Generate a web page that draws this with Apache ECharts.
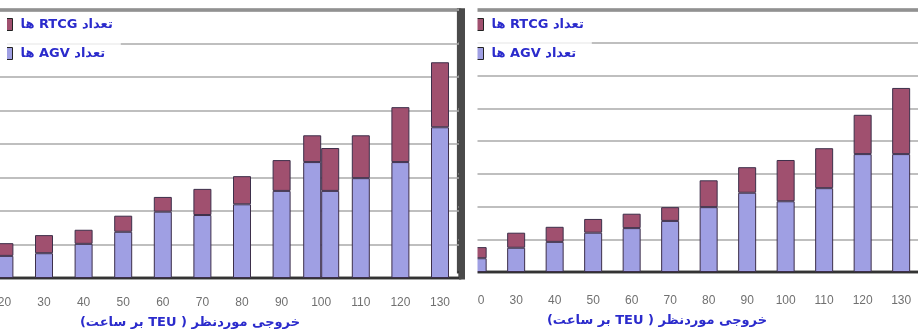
<!DOCTYPE html>
<html>
<head>
<meta charset="utf-8">
<script src="https://cdn.jsdelivr.net/npm/echarts@6/dist/echarts.min.js"></script>
<style>
  html, body { margin: 0; padding: 0; background: #ffffff; }
  #chart { width: 918px; height: 336px; }
</style>
</head>
<body>
<div id="chart"></div>
<script>
// Output rate categories (TEU per hour)
const categories = ['20', '30', '40', '50', '60', '70', '80', '90', '100', '110', '120', '130'];

// Left chart: AGV count (lower segment) and RTCG count (upper segment).
// The 100 column carries two side-by-side bars, kept in their own arrays.
const leftAgv  = [3.3, 3.7, 5.1, 6.9, 9.9, 9.4, 11.0, 13.0, null, 14.9, 17.3, 22.5];
const leftRtcg = [1.9, 2.7, 2.1, 2.4, 2.2, 3.9, 4.2, 4.6, null, 6.4, 8.2, 9.7];
const leftAgvAt100  = [17.3, 13.0];
const leftRtcgAt100 = [4.0, 6.4];

// Right chart
const rightAgv  = [2.1, 3.7, 4.6, 6.0, 6.7, 7.8, 9.9, 12.1, 10.8, 12.8, 18.0, 18.0];
const rightRtcg = [1.7, 2.3, 2.3, 2.1, 2.2, 2.1, 4.1, 3.9, 6.3, 6.1, 6.0, 10.1];

const nameRtcg = 'تعداد RTCG ها';
const nameAgv = 'تعداد AGV ها';
const axisTitle = 'خروجی موردنظر ( TEU بر ساعت)';

// wrap Persian strings in a right-to-left embedding
const rtl = s => '\u202B' + s + '\u202C';

const AGV_COLOR = '#9f9fe3';
const RTCG_COLOR = '#a0506f';
const BAR_BORDER = '#3d2f4a';
const TEXT_BLUE = '#2b2bcc';
const FRAME = '#4a4a4a';
const persianFont = 'bold 13px "DejaVu Sans"';

// data for one of the two bars in the 100 column
const splitColumn = (values, i) => categories.map(c => (c === '100' ? values[i] : null));

function barSeries(name, data, stack, xIdx, yIdx, color, extra) {
  return Object.assign({
    type: 'bar', name, data, stack,
    xAxisIndex: xIdx, yAxisIndex: yIdx,
    barWidth: 18,
    itemStyle: { color, borderColor: BAR_BORDER, borderWidth: 1 }
  }, extra || {});
}

const gridStyle = {
  show: true, borderColor: FRAME, borderWidth: 3, backgroundColor: 'transparent',
  containLabel: false, outerBoundsMode: 'none'
};

const valueAxis = (gridIndex) => ({
  type: 'value', gridIndex, min: 0, max: 40, interval: 5,
  axisLabel: { show: false }, axisLine: { show: false }, axisTick: { show: false },
  splitLine: { lineStyle: { color: '#aaaaaa', width: 1.5 } }
});

const catAxis = (gridIndex, margin, show) => ({
  type: 'category', gridIndex, data: categories, show,
  axisLine: { lineStyle: { color: '#333333', width: 2 } },
  axisTick: { show: false },
  axisLabel: { interval: 0, margin, color: '#707070', fontSize: 12, fontFamily: '"Liberation Sans", Arial, sans-serif' }
});

const legendBase = {
  orient: 'vertical', top: 14, itemWidth: 10, itemHeight: 12, itemGap: 16,
  icon: 'rect', padding: [4, 8, 4, 2],
  backgroundColor: 'rgba(255,255,255,0.8)',
  data: [nameRtcg, nameAgv],
  formatter: rtl,
  itemStyle: { borderColor: '#222222', borderWidth: 1 },
  textStyle: { color: TEXT_BLUE, fontWeight: 'bold', fontSize: 13, fontFamily: '"DejaVu Sans"', padding: [0, 0, 0, 3] }
};

const chart = echarts.init(document.getElementById('chart'), null, { renderer: 'canvas' });

chart.setOption({
  animation: false,
  backgroundColor: '#ffffff',
  grid: [
    Object.assign({ left: -15.4, top: 10, width: 475.2, height: 268 }, gridStyle),
    Object.assign({ left: 458.4, top: 10, width: 462, height: 262 }, gridStyle)
  ],
  xAxis: [
    catAxis(0, 19, true),
    catAxis(0, 19, false),
    catAxis(1, 23, true)
  ],
  yAxis: [valueAxis(0), valueAxis(1)],
  legend: [
    Object.assign({ left: 0 }, legendBase),
    Object.assign({ left: 471 }, legendBase)
  ],
  series: [
    barSeries(nameAgv, leftAgv, 'left', 0, 0, AGV_COLOR),
    barSeries(nameRtcg, leftRtcg, 'left', 0, 0, RTCG_COLOR),
    barSeries(nameAgv, splitColumn(leftAgvAt100, 0), 'left100a', 1, 0, AGV_COLOR),
    barSeries(nameRtcg, splitColumn(leftRtcgAt100, 0), 'left100a', 1, 0, RTCG_COLOR),
    barSeries(nameAgv, splitColumn(leftAgvAt100, 1), 'left100b', 1, 0, AGV_COLOR),
    barSeries(nameRtcg, splitColumn(leftRtcgAt100, 1), 'left100b', 1, 0, RTCG_COLOR, { barGap: '0%' }),
    barSeries(nameAgv, rightAgv, 'right', 2, 1, AGV_COLOR),
    barSeries(nameRtcg, rightRtcg, 'right', 2, 1, RTCG_COLOR)
  ],
  graphic: [
    // heavy right frame edge of the left chart
    { type: 'rect', z: 100, shape: { x: 459, y: 8.5, width: 6, height: 271 }, style: { fill: FRAME } },
    // white gutter between the two charts
    { type: 'rect', z: 100, shape: { x: 465, y: 0, width: 12.5, height: 336 }, style: { fill: '#ffffff' } },
    // the page edge trims the left legend keys
    { type: 'rect', z: 100, shape: { x: 0, y: 16, width: 7, height: 48 }, style: { fill: '#ffffff' } },
    { type: 'text', z: 100, x: 190, y: 323,
      style: { text: rtl(axisTitle), align: 'center', verticalAlign: 'middle', fill: TEXT_BLUE, font: persianFont } },
    { type: 'text', z: 100, x: 657, y: 321,
      style: { text: rtl(axisTitle), align: 'center', verticalAlign: 'middle', fill: TEXT_BLUE, font: persianFont } }
  ]
});
</script>
</body>
</html>
